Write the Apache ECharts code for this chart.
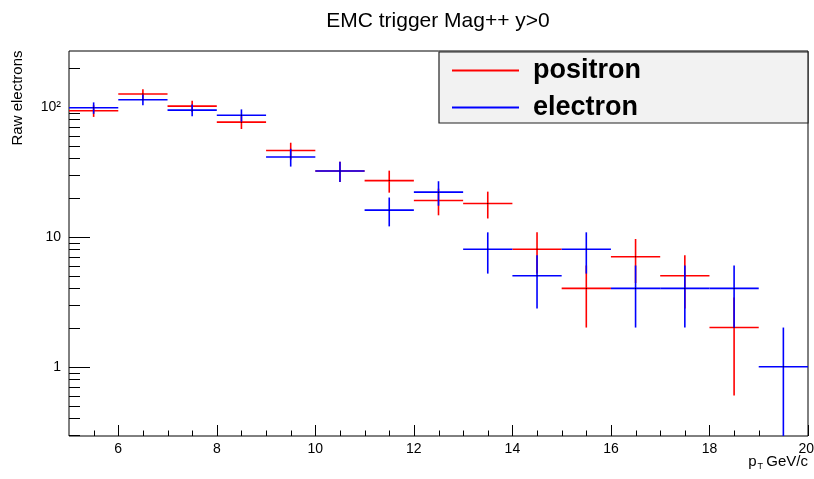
<!DOCTYPE html>
<html><head><meta charset="utf-8">
<script src="https://cdn.jsdelivr.net/npm/echarts@6/dist/echarts.min.js"></script>
<style>html,body{margin:0;padding:0;background:#fff}#c{width:814px;height:479px}</style>
</head><body><div id="c"></div><script>
// ---- data ----
const binEdges = [5,6,7,8,9,10,11,12,13,14,15,16,17,18,19,20];
const positron    = [93,125,101,76,46,32,27,19,18,8,4,7,5,2,0];
const positronErr = [9.6,11.2,10.0,8.7,6.8,5.7,5.2,4.4,4.2,2.8,2.0,2.6,2.2,1.4,0];
const electron    = [98,113,94,86,41,32,16,22,8,5,8,4,4,4,1];
const electronErr = [9.9,10.6,9.7,9.3,6.4,5.7,4.0,4.7,2.8,2.2,2.8,2.0,2.0,2.0,1.0];
const xMajorTicks = [6,8,10,12,14,16,18,20];
const xTickLabels = ['6','8','10','12','14','16','18','20'];
const xMinorTicks = [5.5,6.5,7,7.5,8.5,9,9.5,10.5,11,11.5,12.5,13,13.5,14.5,15,15.5,16.5,17,17.5,18.5,19,19.5];
const yMajorTicks = [1,10,100];
const yTickLabels = ['1','10','10²'];
const yMinorTicks = [0.3,0.4,0.5,0.6,0.7,0.8,0.9,2,3,4,5,6,7,8,9,20,30,40,50,60,70,80,90,200];
const X_MIN = 5, X_MAX = 20, Y_MIN = 0.293, Y_MAX = 268;

const FONT = 'Liberation Sans, Arial, Helvetica, sans-serif';
const chart = echarts.init(document.getElementById('c'), null, {renderer:'canvas'});

function histSeries(name, color, vals, errs){
  const data = [];
  vals.forEach((v,i)=>{ if (v>0) data.push([binEdges[i], binEdges[i+1], v, errs[i]]); });
  return {
    name, type:'custom', data, itemStyle:{color}, encode:{x:[0,1], y:2},
    renderItem(params, api){
      const x0=api.value(0), x1=api.value(1), v=api.value(2), e=api.value(3);
      const xc=(x0+x1)/2;
      const pL=api.coord([x0,v]), pR=api.coord([x1,v]);
      const pT=api.coord([xc, Math.min(v+e, Y_MAX)]), pB=api.coord([xc, Math.max(v-e, Y_MIN)]);
      const st={stroke:color, lineWidth:1.6};
      return {type:'group', children:[
        {type:'line', shape:{x1:pL[0],y1:pL[1],x2:pR[0],y2:pR[1]}, style:st},
        {type:'line', shape:{x1:pT[0],y1:pT[1],x2:pB[0],y2:pB[1]}, style:st},
        {type:'rect', shape:{x:pT[0]-0.5,y:pL[1]-0.5,width:1,height:1}, style:{fill:'#000'}}
      ]};
    }
  };
}

function xTickSeries(values, len, labels){
  return {
    type:'custom', silent:true, data: values.map(t=>[t, Y_MAX]), encode:{x:0,y:1},
    renderItem(params, api){
      const t=api.value(0); const p=api.coord([t, Y_MAX]);
      const cs=params.coordSys; const bottom=cs.y+cs.height;
      const x=Math.round(p[0])+0.5;
      const ch=[{type:'line', shape:{x1:x,y1:bottom,x2:x,y2:bottom-len}, style:{stroke:'#000', lineWidth:1}}];
      if (labels) {
        const last = params.dataIndex === labels.length-1;
        ch.push({type:'text', x: last ? Math.min(p[0]+8, 814) : p[0], y:bottom+6,
          style:{text:labels[params.dataIndex], align: last ? 'right' : 'center', verticalAlign:'top', fontSize:14, fontFamily:FONT, fill:'#000'}});
      }
      return {type:'group', children:ch};
    }
  };
}
function yTickSeries(values, len, labels){
  return {
    type:'custom', silent:true, data: values.map(v=>[X_MIN, v]), encode:{x:0,y:1},
    renderItem(params, api){
      const v=api.value(1); const p=api.coord([X_MIN, v]);
      const cs=params.coordSys; const left=cs.x;
      const y=Math.round(p[1])+0.5;
      const ch=[{type:'line', shape:{x1:left,y1:y,x2:left+len,y2:y}, style:{stroke:'#000', lineWidth:1}}];
      if (labels) ch.push({type:'text', x:left-8, y:p[1], style:{text:labels[params.dataIndex], align:'right', verticalAlign:'middle', fontSize:14, fontFamily:FONT, fill:'#000'}});
      return {type:'group', children:ch};
    }
  };
}

chart.setOption({
  animation:false,
  backgroundColor:'#fff',
  title:{text:'EMC trigger Mag++ y>0', left:438, top:11, padding:0, textAlign:'center',
    textStyle:{fontSize:21, fontWeight:'normal', color:'#000', fontFamily:FONT}},
  grid:{left:69, right:6, top:51, bottom:43, show:true, borderColor:'#000', borderWidth:1, backgroundColor:'transparent'},
  xAxis:{type:'value', min:X_MIN, max:X_MAX, show:false},
  yAxis:{type:'log', logBase:10, min:Y_MIN, max:Y_MAX, show:false},
  legend:{
    data:['positron','electron'], orient:'vertical', left:439, top:52,
    padding:[5,167,2,13], itemGap:10, itemWidth:67, itemHeight:2, icon:'rect',
    backgroundColor:'#f2f2f2', borderColor:'#222', borderWidth:1.2, borderRadius:0, selectedMode:false,
    formatter: n => '{t|'+n+'}',
    textStyle:{color:'#000', fontSize:27, fontWeight:'bold', fontFamily:FONT,
      rich:{t:{padding:[0,0,0,9], fontSize:27, fontWeight:'bold', color:'#000', fontFamily:FONT}}}
  },
  graphic:[
    {type:'text', x:18, y:98, rotation:Math.PI/2, style:{text:'Raw electrons', align:'center', verticalAlign:'middle', fontSize:15, fontFamily:FONT, fill:'#000'}},
    {type:'text', x:808, y:462, style:{text:'{p|p}{s|T} {g|GeV/c}', align:'right', verticalAlign:'middle', fontFamily:FONT, fill:'#000',
      rich:{p:{fontSize:15, fontFamily:FONT, fill:'#000'}, s:{fontSize:9, fontFamily:FONT, padding:[10,0,0,1], fill:'#000'}, g:{fontSize:15, fontFamily:FONT, fill:'#000'}}}}
  ],
  series:[
    xTickSeries(xMinorTicks, 5.5, null),
    xTickSeries(xMajorTicks, 11, xTickLabels),
    yTickSeries(yMinorTicks, 11, null),
    yTickSeries(yMajorTicks, 21, yTickLabels),
    histSeries('positron', '#ff0000', positron, positronErr),
    histSeries('electron', '#0000ff', electron, electronErr)
  ]
});
</script></body></html>
